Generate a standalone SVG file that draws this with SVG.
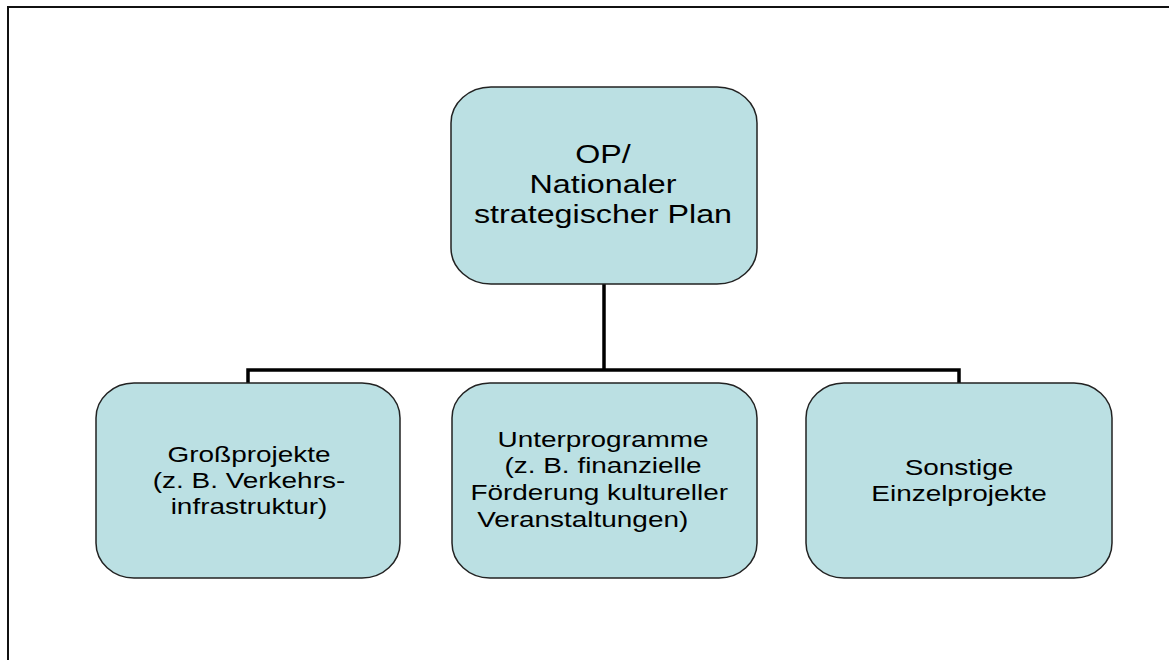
<svg xmlns="http://www.w3.org/2000/svg" width="1169" height="660" viewBox="0 0 1169 660">
<style>
.box{fill:#BBE0E3;stroke:#222;stroke-width:1.5}
.lbl{font-family:"Liberation Sans",Arial,sans-serif;fill:#000;text-anchor:middle}
.big{font-size:25px}
.sm{font-size:22px}
.conn{fill:none;stroke:#000;stroke-width:3.5}
</style>
<rect x="0" y="0" width="1169" height="660" fill="#fff"/>
<rect x="8" y="7" width="1200" height="700" fill="none" stroke="#111" stroke-width="2"/>
<g id="connectors">
<path class="conn" d="M604 284 V370"/>
<path class="conn" d="M248 383 V370 H959 V383"/>
</g>
<g id="top">
<rect class="box" x="451" y="87" width="306" height="197" rx="40" ry="36"/>
<text class="lbl big" transform="translate(603,0) scale(1.29,1)"><tspan x="0" y="163">OP/</tspan><tspan x="0" y="193">Nationaler</tspan><tspan x="0" y="223">strategischer Plan</tspan></text>
</g>
<g id="gross">
<rect class="box" x="96" y="383" width="304" height="195" rx="38" ry="35"/>
<text class="lbl sm" transform="translate(249,0) scale(1.27,1)"><tspan x="0" y="462">Großprojekte</tspan><tspan x="0" y="488">(z. B. Verkehrs-</tspan><tspan x="0" y="514">infrastruktur)</tspan></text>
</g>
<g id="unter">
<rect class="box" x="452" y="383" width="305" height="195" rx="38" ry="35"/>
<text class="lbl sm" transform="translate(603,0) scale(1.27,1)"><tspan x="0" y="447">Unterprogramme</tspan><tspan x="0" y="473">(z. B. finanzielle</tspan><tspan x="-3" y="500">Förderung kultureller</tspan><tspan x="-16" y="527">Veranstaltungen)</tspan></text>
</g>
<g id="sonstige">
<rect class="box" x="806" y="383" width="306" height="195" rx="38" ry="35"/>
<text class="lbl sm" transform="translate(959,0) scale(1.27,1)"><tspan x="0" y="475">Sonstige</tspan><tspan x="0" y="501">Einzelprojekte</tspan></text>
</g>
</svg>
